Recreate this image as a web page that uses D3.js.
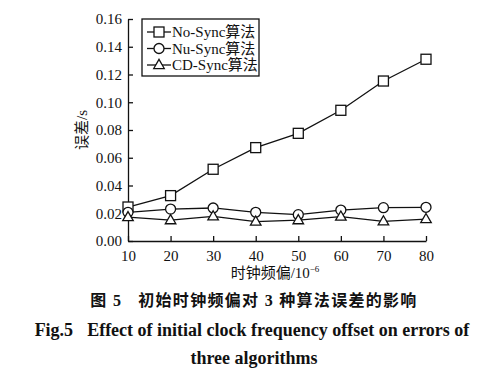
<!DOCTYPE html>
<html lang="zh">
<head>
<meta charset="UTF-8">
<script src="https://d3js.org/d3.v7.min.js"></script>
<style>
  body { margin: 0; background: #fff; }
  svg text { font-family: "Liberation Serif", "Noto Sans CJK SC", serif; fill: #111; }
</style>
</head>
<body>
<svg id="chart" width="498" height="371"></svg>
<script>
// data
const xValues = [10, 20, 30, 40, 50, 60, 70, 80];
const noSync = [0.0245, 0.0327, 0.0517, 0.0673, 0.0776, 0.0942, 0.1153, 0.1310];
const nuSync = [0.0207, 0.0230, 0.0238, 0.0207, 0.0190, 0.0223, 0.0240, 0.0243];
const cdSync = [0.0172, 0.0150, 0.0178, 0.0140, 0.0150, 0.0176, 0.0142, 0.0158];
const seriesNames = ["No-Sync算法", "Nu-Sync算法", "CD-Sync算法"];
const markers = ["square", "circle", "triangle"];
const yTicks = [0, 0.02, 0.04, 0.06, 0.08, 0.10, 0.12, 0.14, 0.16];

const svg = d3.select("#chart");
const x = d3.scaleLinear().domain([10, 80]).range([128, 426]);
const y = d3.scaleLinear().domain([0, 0.16]).range([241, 19]);

// axes (ticks point inward)
const yAxis = svg.append("g").attr("transform", "translate(128,0)")
  .call(d3.axisLeft(y).tickValues(yTicks).tickFormat(d3.format(".2f")).tickSizeInner(-5).tickSizeOuter(0).tickPadding(6));
const xAxis = svg.append("g").attr("transform", "translate(0,241)")
  .call(d3.axisBottom(x).tickValues(xValues).tickSizeInner(-5).tickSizeOuter(0).tickPadding(6));
[yAxis, xAxis].forEach(a => {
  a.selectAll("path, line").attr("stroke", "#111").attr("stroke-width", 1.3);
  a.selectAll("text").attr("font-size", 15).attr("font-family", "Liberation Serif").attr("fill", "#111");
});
xAxis.selectAll("text").attr("dy", "0.9em");

// axis titles
svg.append("text").attr("x", 275).attr("y", 278).attr("text-anchor", "middle")
  .attr("font-size", 15)
  .html('时钟频偏/10<tspan dy="-6" font-size="9">−6</tspan>');
svg.append("text").attr("transform", "translate(87,130) rotate(-90)")
  .attr("text-anchor", "middle").attr("font-size", 15).text("误差/s");

// marker drawing
function drawMarker(g, type, cx, cy) {
  if (type === "square") {
    g.append("rect").attr("x", cx - 5).attr("y", cy - 5).attr("width", 10).attr("height", 10)
      .attr("fill", "#fff").attr("stroke", "#111").attr("stroke-width", 1.3);
  } else if (type === "circle") {
    g.append("circle").attr("cx", cx).attr("cy", cy).attr("r", 5)
      .attr("fill", "#fff").attr("stroke", "#111").attr("stroke-width", 1.3);
  } else {
    const s = d3.symbol().type(d3.symbolTriangle).size(48);
    g.append("path").attr("d", s()).attr("transform", `translate(${cx},${cy + 0.5})`)
      .attr("fill", "#fff").attr("stroke", "#111").attr("stroke-width", 1.3);
  }
}

const allSeries = [noSync, nuSync, cdSync];
const line = d3.line().x((d, i) => x(xValues[i])).y(d => y(d));
allSeries.forEach((vals, k) => {
  svg.append("path").datum(vals).attr("d", line)
    .attr("fill", "none").attr("stroke", "#111").attr("stroke-width", 1.3);
});
allSeries.forEach((vals, k) => {
  const g = svg.append("g");
  vals.forEach((v, i) => drawMarker(g, markers[k], x(xValues[i]), y(v)));
});

// legend
const lg = svg.append("g");
lg.append("rect").attr("x", 142).attr("y", 19).attr("width", 117).attr("height", 57)
  .attr("fill", "#fff").attr("stroke", "#111").attr("stroke-width", 1.3);
seriesNames.forEach((name, k) => {
  const ly = 32 + k * 16.5;
  lg.append("line").attr("x1", 147).attr("x2", 171).attr("y1", ly).attr("y2", ly)
    .attr("stroke", "#111").attr("stroke-width", 1.3);
  drawMarker(lg, markers[k], 159, ly);
  lg.append("text").attr("x", 172).attr("y", ly + 5).attr("font-size", 15).text(name);
});

// caption
svg.append("text").attr("x", 254).attr("y", 306).attr("text-anchor", "middle")
  .attr("font-size", 16).attr("font-weight", "bold")
  .attr("font-family", "Noto Sans CJK SC").attr("letter-spacing", 1.3)
  .html('图 5<tspan dx="16">初始时钟频偏对 3 种算法误差的影响</tspan>');
svg.append("text").attr("x", 252).attr("y", 336).attr("text-anchor", "middle")
  .attr("font-size", 18).attr("font-weight", "bold").attr("font-family", "Liberation Serif")
  .html('Fig.5<tspan dx="14">Effect of initial clock frequency offset on errors of</tspan>');
svg.append("text").attr("x", 254).attr("y", 364).attr("text-anchor", "middle")
  .attr("font-size", 18).attr("font-weight", "bold").attr("font-family", "Liberation Serif")
  .text("three algorithms");
</script>
</body>
</html>
